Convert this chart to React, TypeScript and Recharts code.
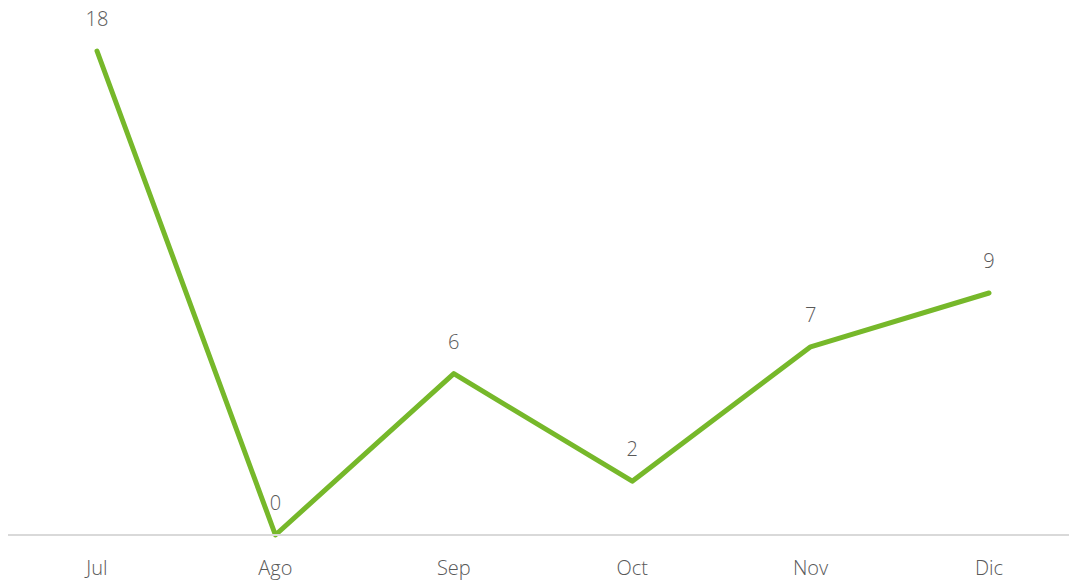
import React from 'react';
import { LineChart, Line, XAxis, YAxis, LabelList } from 'recharts';

const months = ['Jul', 'Ago', 'Sep', 'Oct', 'Nov', 'Dic'];
const values = [18, 0, 6, 2, 7, 9];

const data = months.map((m, i) => ({ month: m, value: values[i] }));

const FONT = '"Open Sans", "Noto Sans", sans-serif';

export default function App() {
  return (
    <div style={{ position: 'absolute', left: 0, top: 0, width: 1069, height: 585, background: '#fff' }}>
      <LineChart width={1069} height={585} data={data} margin={{ top: 51, right: 0, bottom: 0, left: 8 }}>
        <XAxis
          dataKey="month"
          height={50}
          padding={{ left: 89, right: 80 }}
          axisLine={{ stroke: '#d9d9d9', strokeWidth: 2 }}
          tickLine={false}
          tick={{ fill: '#595959', fontSize: 20, fontFamily: FONT, fontWeight: 300 }}
          tickMargin={20}
        />
        <YAxis hide domain={[0, 18]} />
        <Line
          type="linear"
          dataKey="value"
          stroke="#76b82a"
          strokeWidth={5}
          strokeLinecap="round"
          strokeLinejoin="round"
          dot={false}
          isAnimationActive={false}
        >
          <LabelList
            dataKey="value"
            position="top"
            offset={25}
            fill="#595959"
            fontSize={20}
            fontFamily={FONT}
            fontWeight={300}
          />
        </Line>
      </LineChart>
    </div>
  );
}
